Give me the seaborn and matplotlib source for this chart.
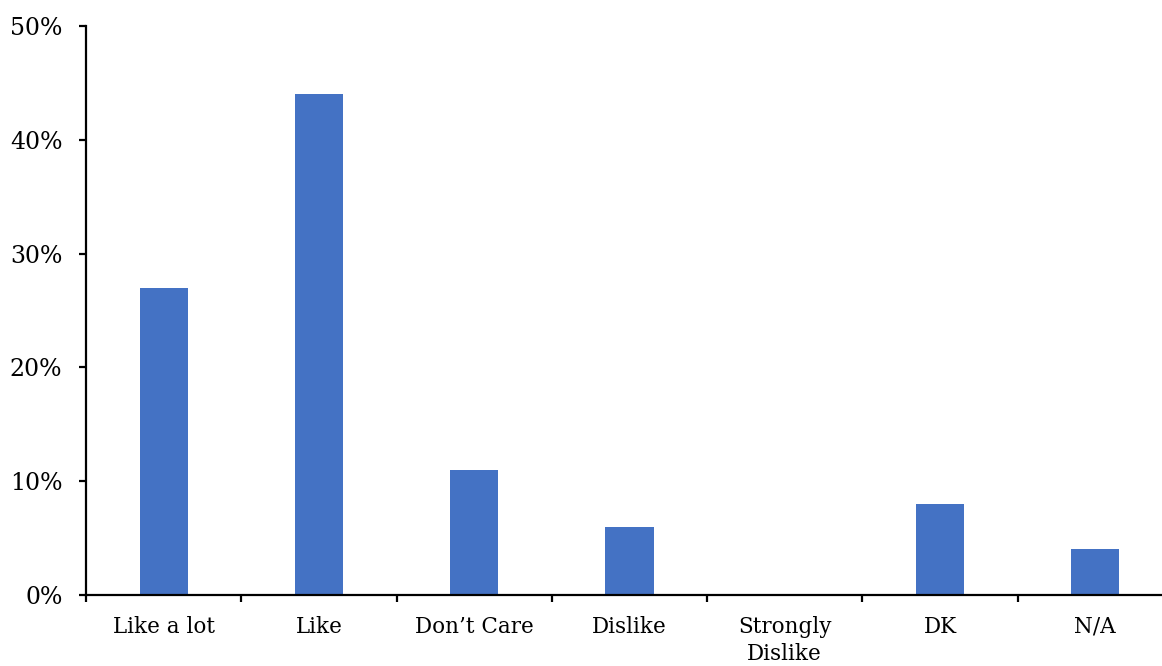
import matplotlib
matplotlib.use("Agg")
import matplotlib.pyplot as plt
import seaborn as sns
import pandas as pd
from matplotlib.ticker import FixedLocator, PercentFormatter

categories = ["Like a lot", "Like", "Don\u2019t Care", "Dislike", "Strongly\nDislike", "DK", "N/A"]
shares = [27, 44, 11, 6, 0, 8, 4]
y_ticks = [0, 10, 20, 30, 40, 50]

df = pd.DataFrame({"category": categories, "share": shares})

sns.set_theme(style="white")
plt.rcParams["font.family"] = ["DejaVu Serif"]

fig = plt.figure(figsize=(11.62, 6.66), dpi=100)
ax = fig.add_axes([86 / 1162, 71 / 666, 1076 / 1162, 569 / 666])

sns.barplot(data=df, x="category", y="share", color="#4472C4", width=0.31,
            saturation=1, edgecolor="none", ax=ax)

ax.set_xlim(-0.5, 6.43)
ax.set_ylim(0, 50)
ax.set_yticks(y_ticks)
ax.yaxis.set_major_formatter(PercentFormatter(decimals=0))
ax.set_xlabel("")
ax.set_ylabel("")

for side in ("top", "right"):
    ax.spines[side].set_visible(False)
for side in ("left", "bottom"):
    ax.spines[side].set_linewidth(1.6)
    ax.spines[side].set_color("black")

ax.tick_params(axis="y", which="major", direction="out", length=5, width=1.6,
               color="black", labelsize=17, labelcolor="black", pad=12, left=True)
ax.tick_params(axis="x", which="major", length=0, labelsize=15.5,
               labelcolor="black", pad=15)
ax.xaxis.set_minor_locator(FixedLocator([i + 0.5 for i in range(-1, 7)]))
ax.tick_params(axis="x", which="minor", direction="out", length=5, width=1.6,
               color="black", bottom=True)
for lbl in ax.get_xticklabels():
    lbl.set_linespacing(1.3)

fig.savefig("out.png", dpi=100)
